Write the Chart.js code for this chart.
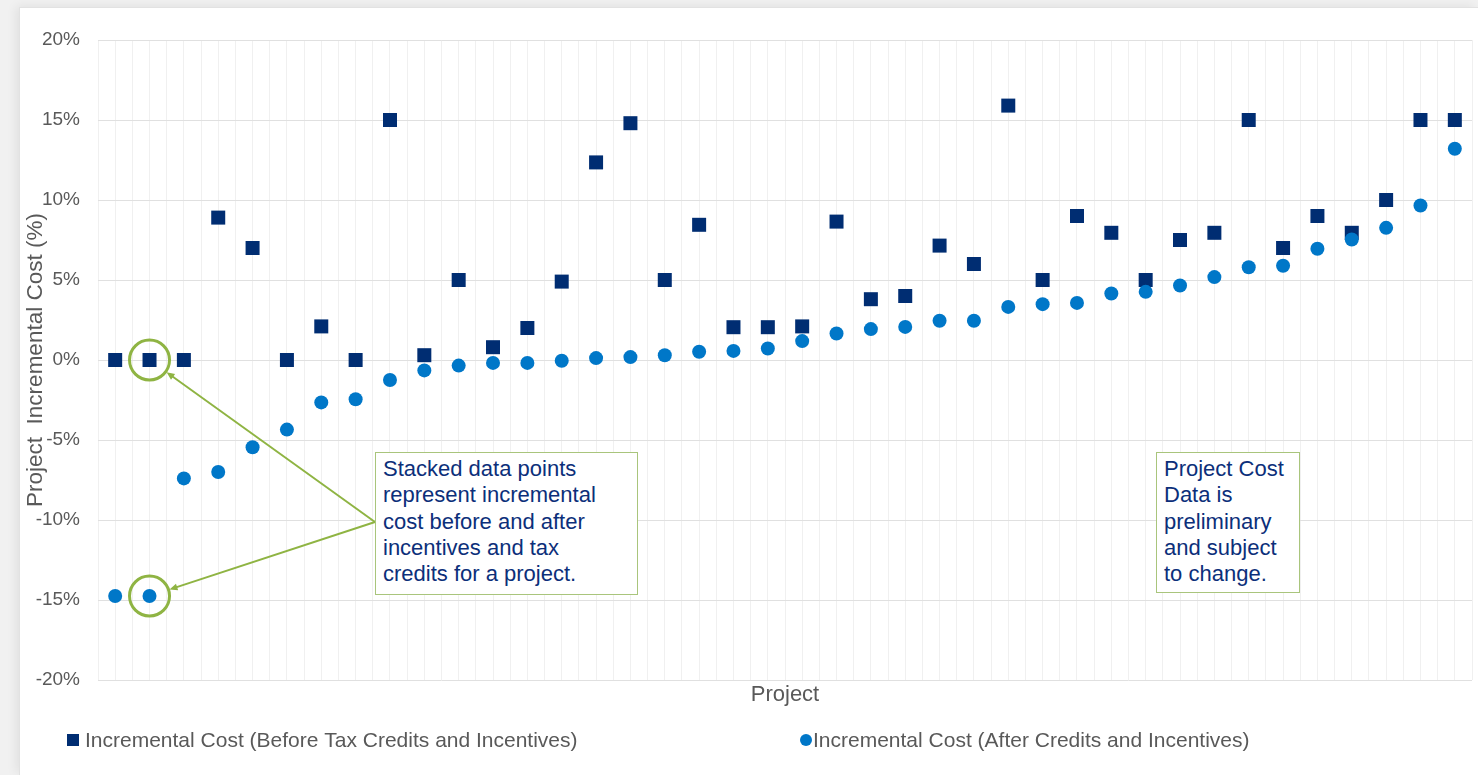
<!DOCTYPE html>
<html lang="en">
<head>
<meta charset="utf-8">
<title>Project Incremental Cost</title>
<script src="https://cdn.jsdelivr.net/npm/chart.js@4.4.1/dist/chart.umd.min.js"></script>
<style>
    html, body { margin: 0; padding: 0; }
    body {
        width: 1478px; height: 775px; overflow: hidden;
        background: #f1f1f1;
        font-family: "Liberation Sans", Arial, sans-serif;
    }
    #card {
        position: absolute; left: 20px; top: 8px; width: 1458px; height: 767px;
        background: #fff;
        box-shadow: 0 0 0 1px #e2e2e2, -4px -2px 10px rgba(0, 0, 0, 0.07);
    }
    #costChart { position: absolute; left: 0; top: 0; }
    .note {
        position: absolute; box-sizing: border-box;
        background: #fff; border: 1.5px solid #a9c57c;
        color: #0c2f7a; font-size: 22px; line-height: 26.3px;
        padding: 3px 0 0 7px; white-space: nowrap;
    }
</style>
</head>
<body>
<div id="card">
    <canvas id="costChart" width="1458" height="767"></canvas>
    <div class="note" style="left:355px; top:444px; width:263px; height:143px;">Stacked data points<br>represent incremental<br>cost before and after<br>incentives and tax<br>credits for a project.</div>
    <div class="note" style="left:1136px; top:444px; width:144px; height:141px;">Project Cost<br>Data is<br>preliminary<br>and subject<br>to change.</div>
</div>
<script>
// Numéros des projets (axe X)
var projects = [1, 2, 3, 4, 5, 6, 7, 8, 9, 10, 11, 12, 13, 14, 15, 16, 17, 18, 19, 20,
    21, 22, 23, 24, 25, 26, 27, 28, 29, 30, 31, 32, 33, 34, 35, 36, 37, 38, 39, 40];

// Coût incrémental avant crédits d'impôt et incitations (%)
var beforeCredits = [0, 0, 0, 8.9, 7.0, 0, 2.1, 0, 15.0, 0.3, 5.0, 0.8, 2.0, 4.9, 12.35, 14.8, 5.0, 8.45, 2.05, 2.05,
    2.1, 8.65, 3.8, 4.0, 7.15, 6.0, 15.9, 5.0, 9.0, 7.95, 5.0, 7.5, 7.95, 15.0, 7.0, 9.0, 7.95, 10.0, 15.0, 15.0];

// Coût incrémental après crédits et incitations (%)
var afterCredits = [-14.75, -14.75, -7.4, -7.0, -5.45, -4.35, -2.65, -2.45, -1.25, -0.65, -0.35, -0.18, -0.18, -0.05, 0.12, 0.18, 0.3, 0.52, 0.57, 0.72,
    1.18, 1.66, 1.93, 2.07, 2.45, 2.45, 3.32, 3.49, 3.57, 4.16, 4.26, 4.66, 5.18, 5.8, 5.89, 6.95, 7.53, 8.26, 9.66, 13.2];

// Graduations de l'axe Y
var yTicks = [-20, -15, -10, -5, 0, 5, 10, 15, 20];

var legendLabels = ['Incremental Cost (Before Tax Credits and Incentives)', 'Incremental Cost (After Credits and Incentives)'];

var navy = '#002d72';
var blue = '#0077c8';
var green = '#8fb443';
var grey = '#595959';
var arrowFrom = { x: 355, y: 514 }; // bord gauche de la boîte de commentaire

function toPoints(values) {
    return projects.map(function (p, i) { return { x: p, y: values[i] }; });
}

// Cercles verts et flèches vers le projet 2
var annotationsPlugin = {
    id: 'annotations',
    afterDraw: function (chart) {
        var ctx = chart.ctx;
        var xs = chart.scales.x, ys = chart.scales.y;
        var cx = xs.getPixelForValue(projects[1]);
        var targets = [ys.getPixelForValue(beforeCredits[1]), ys.getPixelForValue(afterCredits[1])];
        ctx.save();
        ctx.strokeStyle = green;
        ctx.fillStyle = green;
        targets.forEach(function (cy) {
            ctx.beginPath();
            ctx.arc(cx, cy, 20, 0, Math.PI * 2);
            ctx.lineWidth = 3;
            ctx.stroke();

            var dx = arrowFrom.x - cx, dy = arrowFrom.y - cy;
            var len = Math.sqrt(dx * dx + dy * dy);
            var ux = dx / len, uy = dy / len;
            var ex = cx + ux * 21, ey = cy + uy * 21;
            ctx.beginPath();
            ctx.moveTo(arrowFrom.x, arrowFrom.y);
            ctx.lineTo(ex + ux * 6, ey + uy * 6);
            ctx.lineWidth = 2;
            ctx.stroke();
            // pointe de flèche
            ctx.beginPath();
            ctx.moveTo(ex, ey);
            ctx.lineTo(ex + ux * 8 - uy * 3.5, ey + uy * 8 + ux * 3.5);
            ctx.lineTo(ex + ux * 8 + uy * 3.5, ey + uy * 8 - ux * 3.5);
            ctx.closePath();
            ctx.fill();
        });
        ctx.restore();
    }
};

// Légende dessinée à la façon Excel (deux entrées très espacées)
var legendPlugin = {
    id: 'excelLegend',
    afterDraw: function (chart) {
        var ctx = chart.ctx;
        ctx.save();
        ctx.font = '21px "Liberation Sans", Arial, sans-serif';
        ctx.textBaseline = 'middle';
        ctx.textAlign = 'left';
        ctx.fillStyle = navy;
        ctx.fillRect(47, 726, 12, 12);
        ctx.fillStyle = grey;
        ctx.fillText(legendLabels[0], 65, 733);
        ctx.fillStyle = blue;
        ctx.beginPath();
        ctx.arc(786, 732, 6, 0, Math.PI * 2);
        ctx.fill();
        ctx.fillStyle = grey;
        ctx.fillText(legendLabels[1], 793, 733);
        ctx.restore();
    }
};

var costChart = new Chart(document.getElementById('costChart'), {
    type: 'scatter',
    data: {
        datasets: [{
            label: legendLabels[0],
            data: toPoints(beforeCredits),
            pointStyle: 'rect',
            pointRadius: 9.9,
            borderWidth: 0,
            backgroundColor: navy,
            borderColor: navy,
            order: 1
        }, {
            label: legendLabels[1],
            data: toPoints(afterCredits),
            pointStyle: 'circle',
            pointRadius: 7,
            borderWidth: 0,
            backgroundColor: blue,
            borderColor: blue,
            order: 0
        }]
    },
    options: {
        responsive: false,
        animation: false,
        events: [],
        layout: {
            autoPadding: false, // sinon le rayon des points réserve une marge à droite
            padding: { top: 32, right: 6, left: 0, bottom: 65 }
        },
        plugins: {
            legend: { display: false },
            tooltip: { enabled: false }
        },
        scales: {
            x: {
                type: 'linear',
                min: 0.5,
                max: 40.5,
                afterFit: function (scale) { scale.height = 30; },
                ticks: {
                    display: false,
                    stepSize: 0.5,
                    maxTicksLimit: 200
                },
                grid: { color: '#f0f0f0', lineWidth: 1, drawTicks: false },
                border: { display: false },
                title: {
                    display: true,
                    text: 'Project',
                    color: grey,
                    font: { family: '"Liberation Sans", Arial, sans-serif', size: 22 },
                    padding: { top: 0, bottom: 2 }
                }
            },
            y: {
                min: yTicks[0],
                max: yTicks[yTicks.length - 1],
                afterFit: function (scale) { scale.width = 78; },
                afterBuildTicks: function (scale) {
                    scale.ticks = yTicks.map(function (v) { return { value: v }; });
                },
                ticks: {
                    color: grey,
                    padding: 18,
                    font: { family: '"Liberation Sans", Arial, sans-serif', size: 19 },
                    callback: function (v) { return v + '%'; }
                },
                grid: { color: '#e0e0e0', lineWidth: 1, drawTicks: false },
                border: { display: false },
                title: {
                    display: true,
                    text: 'Project  Incremental Cost (%)',
                    color: grey,
                    font: { family: '"Liberation Sans", Arial, sans-serif', size: 22.5 },
                    padding: { top: 2, bottom: 0 }
                }
            }
        }
    },
    plugins: [annotationsPlugin, legendPlugin]
});
</script>
</body>
</html>
